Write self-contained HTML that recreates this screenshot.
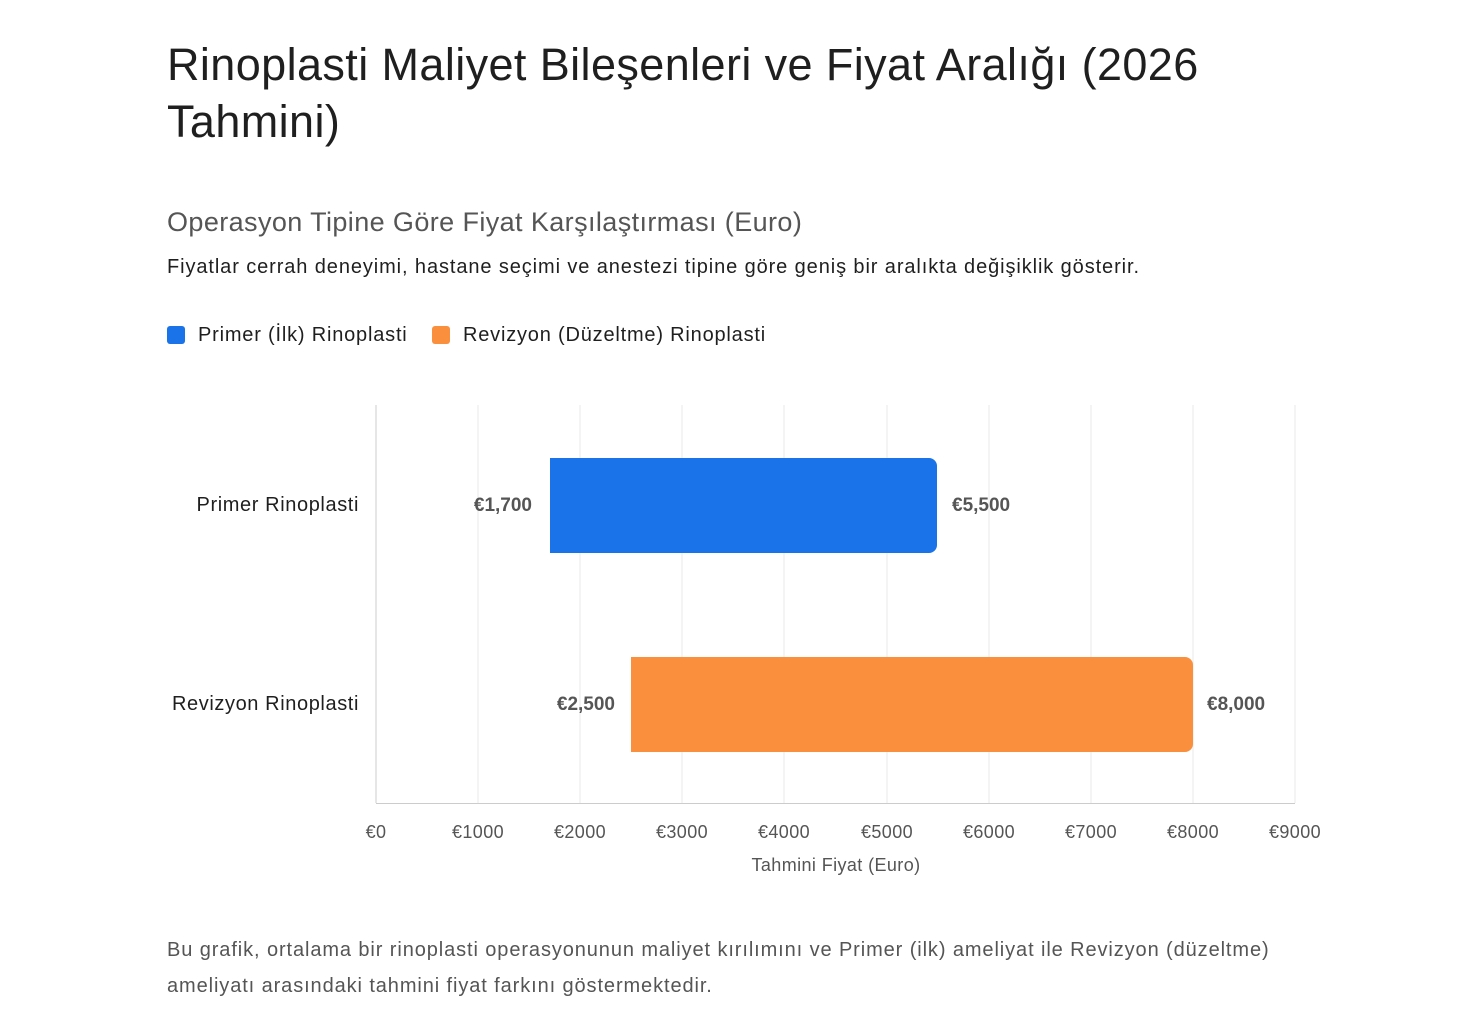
<!DOCTYPE html>
<html><head><meta charset="utf-8"><style>
body{margin:0;width:1468px;height:1020px;background:#fff;font-family:"Liberation Sans",sans-serif;color:#1f1f1f;position:relative;overflow:hidden}
.a{position:absolute;white-space:nowrap}
</style></head><body>
<div class="a" style="left:167px;top:36px;font-size:45px;line-height:57px;color:#1f1f1f;letter-spacing:0.4px">Rinoplasti Maliyet Bileşenleri ve Fiyat Aralığı (2026<br>Tahmini)</div>
<div class="a" style="left:167px;top:207px;font-size:27px;color:#555;letter-spacing:0.4px">Operasyon Tipine Göre Fiyat Karşılaştırması (Euro)</div>
<div class="a" style="left:167px;top:256px;font-size:20px;color:#1f1f1f;letter-spacing:0.9px">Fiyatlar cerrah deneyimi, hastane seçimi ve anestezi tipine göre geniş bir aralıkta değişiklik gösterir.</div>
<div class="a" style="left:167px;top:326px;width:18px;height:18px;background:#1a73e8;border-radius:3px"></div>
<div class="a" style="left:198px;top:324px;font-size:20px;letter-spacing:0.8px">Primer (İlk) Rinoplasti</div>
<div class="a" style="left:432px;top:326px;width:18px;height:18px;background:#fa903e;border-radius:3px"></div>
<div class="a" style="left:463px;top:324px;font-size:20px;letter-spacing:0.8px">Revizyon (Düzeltme) Rinoplasti</div>
<svg class="a" style="left:0;top:0" width="1468" height="1020" font-family="Liberation Sans, sans-serif">
<g stroke="#e8e8e8" stroke-width="1">
<line x1="478" y1="405" x2="478" y2="803"/><line x1="580" y1="405" x2="580" y2="803"/><line x1="682" y1="405" x2="682" y2="803"/><line x1="784" y1="405" x2="784" y2="803"/><line x1="887" y1="405" x2="887" y2="803"/><line x1="989" y1="405" x2="989" y2="803"/><line x1="1091" y1="405" x2="1091" y2="803"/><line x1="1193" y1="405" x2="1193" y2="803"/><line x1="1295" y1="405" x2="1295" y2="803"/>
</g>
<line x1="376" y1="405" x2="376" y2="803" stroke="#ccc"/>
<line x1="376" y1="803.5" x2="1295" y2="803.5" stroke="#ccc"/>
<path d="M550 458 H929 a8 8 0 0 1 8 8 V545 a8 8 0 0 1 -8 8 H550 Z" fill="#1a73e8"/>
<path d="M631 657 H1185 a8 8 0 0 1 8 8 V744 a8 8 0 0 1 -8 8 H631 Z" fill="#fa903e"/>
<g font-size="20" fill="#1f1f1f" text-anchor="end" letter-spacing="0.6">
<text x="359" y="511">Primer Rinoplasti</text><text x="359" y="710">Revizyon Rinoplasti</text>
</g>
<g font-size="19" font-weight="bold" fill="#555">
<text x="532" y="511" text-anchor="end">€1,700</text><text x="952" y="511">€5,500</text>
<text x="615" y="710" text-anchor="end">€2,500</text><text x="1207" y="710">€8,000</text>
</g>
<g font-size="18" fill="#555" text-anchor="middle" letter-spacing="0.4">
<text x="376" y="838">€0</text><text x="478" y="838">€1000</text><text x="580" y="838">€2000</text><text x="682" y="838">€3000</text><text x="784" y="838">€4000</text><text x="887" y="838">€5000</text><text x="989" y="838">€6000</text><text x="1091" y="838">€7000</text><text x="1193" y="838">€8000</text><text x="1295" y="838">€9000</text>
<text x="836" y="871">Tahmini Fiyat (Euro)</text>
</g>
</svg>
<div class="a" style="left:167px;top:932px;font-size:20px;line-height:36px;color:#555;letter-spacing:0.9px">Bu grafik, ortalama bir rinoplasti operasyonunun maliyet kırılımını ve Primer (ilk) ameliyat ile Revizyon (düzeltme)<br>ameliyatı arasındaki tahmini fiyat farkını göstermektedir.</div>
</body></html>
